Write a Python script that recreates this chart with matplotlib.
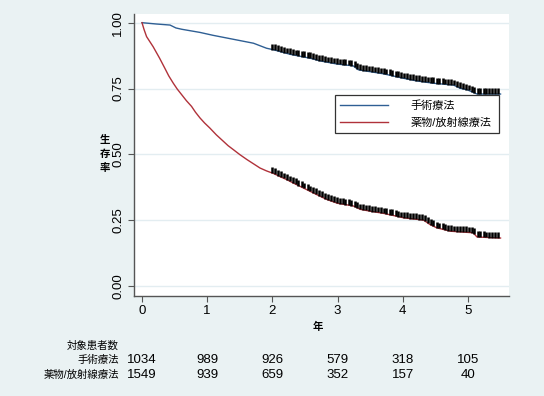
import numpy as np
import matplotlib
matplotlib.use("Agg")
import matplotlib.pyplot as plt
from matplotlib.transforms import blended_transform_factory

plt.rcParams['font.family'] = ['Liberation Sans', 'Noto Sans CJK JP', 'DejaVu Sans']

# ---- data ----
series_names = ["手術療法", "薬物/放射線療法"]

surg_t = [0.0, 0.22, 0.43, 0.52, 0.61, 0.89, 1.09, 1.40, 1.71, 1.91, 2.02, 2.27, 2.58, 2.73,
          2.99, 3.24, 3.32, 3.70, 4.01, 4.21, 4.47, 4.78, 4.88, 4.99, 5.14, 5.50]
surg_s = [1.000, 0.995, 0.991, 0.980, 0.975, 0.963, 0.952, 0.937, 0.922, 0.903, 0.897, 0.880,
          0.865, 0.855, 0.843, 0.836, 0.821, 0.806, 0.789, 0.779, 0.770, 0.763, 0.751,
          0.745, 0.729, 0.729]

drug_t = [0.0, 0.03, 0.07, 0.12, 0.17, 0.22, 0.27, 0.31, 0.35, 0.41, 0.48, 0.54, 0.61,
          0.68, 0.76, 0.82, 0.89, 0.96, 1.04, 1.14, 1.25, 1.32, 1.40, 1.50, 1.61, 1.71,
          1.81, 1.91, 2.02, 2.12, 2.22, 2.32, 2.42, 2.55, 2.68, 2.83, 3.00, 3.24, 3.35,
          3.50, 3.70, 3.85, 4.01, 4.32, 4.42, 4.52, 4.73, 5.08, 5.14, 5.50]
drug_s = [1.000, 0.975, 0.947, 0.928, 0.909, 0.887, 0.865, 0.846, 0.827, 0.798, 0.770,
          0.748, 0.726, 0.704, 0.682, 0.660, 0.638, 0.619, 0.600, 0.574, 0.549, 0.533,
          0.518, 0.499, 0.480, 0.464, 0.448, 0.437, 0.427, 0.415, 0.404, 0.391, 0.379,
          0.363, 0.347, 0.329, 0.314, 0.304, 0.291, 0.284, 0.276, 0.268, 0.259, 0.250,
          0.233, 0.221, 0.208, 0.202, 0.186, 0.182]

censor_times = [2.00, 2.04, 2.09, 2.13, 2.18, 2.22, 2.27, 2.31, 2.36, 2.40, 2.45, 2.49,
                2.54, 2.58, 2.63, 2.67, 2.72, 2.76, 2.81, 2.85, 2.90, 2.94, 2.99, 3.03,
                3.08, 3.12, 3.17, 3.21, 3.26, 3.30, 3.35, 3.39, 3.44, 3.48, 3.53, 3.57,
                3.62, 3.66, 3.71, 3.75, 3.80, 3.84, 3.89, 3.93, 3.98, 4.02, 4.07, 4.11,
                4.16, 4.20, 4.25, 4.29, 4.34, 4.38, 4.43, 4.47, 4.52, 4.56, 4.61, 4.65,
                4.70, 4.74, 4.79, 4.83, 4.88, 4.92, 4.97, 5.01, 5.06, 5.10, 5.15, 5.19,
                5.24, 5.28, 5.33, 5.37, 5.42, 5.46]

risk_years = [0, 1, 2, 3, 4, 5]
risk_surg = [1034, 989, 926, 579, 318, 105]
risk_drug = [1549, 939, 659, 352, 157, 40]

y_ticks = [0.00, 0.25, 0.50, 0.75, 1.00]

# ---- styling ----
bg = "#EAF2F3"
blue = "#2F5F94"
red = "#B0323A"

fig = plt.figure(figsize=(5.44, 3.96), dpi=100, facecolor=bg)
ax = fig.add_axes([134/544, 1 - 295.7/396, 375/544, 281.7/396])
ax.set_facecolor("white")

ax.set_xlim(-0.123, 5.63)
ax.set_ylim(-0.037, 1.033)

for v in y_ticks:
    ax.axhline(v, color="#E3EDF1", lw=1.0, zorder=0)

ax.plot(surg_t, surg_s, color=blue, lw=1.0, label=series_names[0], zorder=3)
ax.plot(drug_t, drug_s, color=red, lw=1.0, label=series_names[1], zorder=3)

for tk, sk in ((surg_t, surg_s), (drug_t, drug_s)):
    cs = np.interp(censor_times, tk, sk)
    ax.vlines(censor_times, cs, cs + 0.022, color="black", lw=1.8, zorder=4)

for side in ("top", "right"):
    ax.spines[side].set_visible(False)
for side in ("left", "bottom"):
    ax.spines[side].set_color("#555555")
    ax.spines[side].set_linewidth(1.0)

ax.set_yticks(y_ticks)
ax.set_yticklabels([f"{v:.2f}" for v in y_ticks], rotation=90, va="center", fontsize=9.5)
ax.set_xticks(risk_years)
ax.set_xticklabels([str(v) for v in risk_years], fontsize=9.5)
ax.tick_params(axis="both", direction="out", length=4, width=0.8, color="#555555", pad=3)

fig.text(105/544, 1 - 154/396, "生\n存\n率", ha="center", va="center", fontsize=7.5,
         fontweight="bold", linespacing=1.45)
fig.text(318/544, 1 - 327/396, "年", ha="center", va="center", fontsize=7.5, fontweight="bold")

leg = ax.legend(loc="upper left", bbox_to_anchor=(0.52, 0.5776, 0.467, 0.156), mode="expand",
                fancybox=False, edgecolor="#333333", framealpha=1, fontsize=8,
                handlelength=4.3, handletextpad=2.0, borderpad=0.5, labelspacing=0.6)
leg.get_frame().set_linewidth(0.9)

trans = blended_transform_factory(ax.transData, fig.transFigure)
fig.text(119/544, 1 - 346/396, "対象患者数", ha="right", va="center", fontsize=7.5)
fig.text(119/544, 1 - 360/396, series_names[0], ha="right", va="center", fontsize=7.5)
fig.text(119/544, 1 - 375/396, series_names[1], ha="right", va="center", fontsize=7.5)
for x, a, b in zip(risk_years, risk_surg, risk_drug):
    ax.text(x, 1 - 360/396, str(a), transform=trans, ha="center", va="center", fontsize=9.5, clip_on=False)
    ax.text(x, 1 - 375/396, str(b), transform=trans, ha="center", va="center", fontsize=9.5, clip_on=False)

fig.savefig("out.png", dpi=100, facecolor=bg)
